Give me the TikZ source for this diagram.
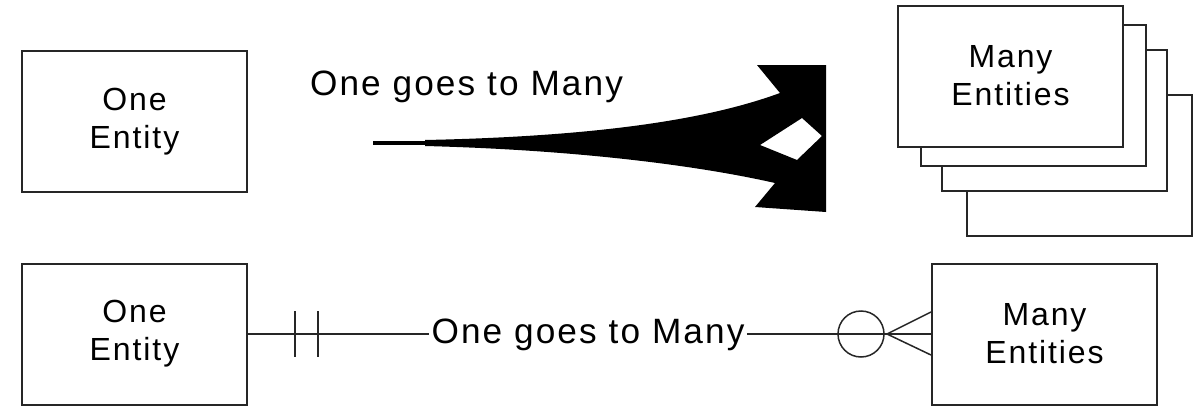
\documentclass[tikz,border=0pt]{standalone}
\usepackage{fontspec}
\setmainfont{Liberation Sans}[LetterSpace=6]
\usetikzlibrary{calc, positioning}

\begin{document}
\begin{tikzpicture}[x=0.5pt, y=-0.5pt,
  entity/.style={draw=black!85, line width=1pt, fill=white, minimum width=112.5pt,
    minimum height=70.5pt, align=center, inner sep=0pt, font=\fontsize{16}{19}\selectfont},
  rel/.style={draw=black!85, line width=0.75pt},
  lbl/.style={inner sep=1pt, font=\fontsize{17.6}{20}\selectfont}]
  \useasboundingbox (0,0) rectangle (1200,407);
  % old notation (top)
  \node[entity] (one1) at (134.5,121.5) {One\\Entity};
  \node[entity] (sheet4) at (1079,165.5) {};
  \node[entity] (sheet3) at (1054.5,120.5) {};
  \node[entity] (sheet2) at (1033,95.5) {};
  \node[entity] (many1) at (1010.5,76) {Many\\Entities};
  \node[lbl, anchor=base] (lbl1) at (466.5,95) {One goes to Many};
  % fat arrow splitting into two heads
  \coordinate (tail) at (373,143);
  \coordinate (head) at (826,138);
  \draw[line width=2pt] (tail) -- (430,143);
  \fill[even odd rule] (425,140) .. controls (620,136) and (720,115) .. (780,93)
      -- (757,65) -- (head |- 0,65) -- (head |- 0,212) -- (755,207) -- (775,183)
      .. controls (700,166) and (580,150) .. (425,146) -- cycle
      (760,145) -- (802,118) -- (822,136) -- (797,160) -- cycle;
  % crow's foot notation (bottom)
  \node[entity] (one2) at (134.5,334) {One\\Entity};
  \node[entity] (many2) at (1044.5,334) {Many\\Entities};
  \node[lbl, anchor=base] (lbl2) at (588,343) {One goes to Many};
  \draw[rel] (one2.east) -- (one2.east -| lbl2.west);
  \draw[rel] (lbl2.east |- many2.west) -- (many2.west);
  % one and only one
  \draw[rel] ($(one2.east)+(47,-23)$) -- ++(0,46);
  \draw[rel] ($(one2.east)+(70,-23)$) -- ++(0,46);
  % zero or many
  \draw[rel] ($(many2.west)+(-70,0)$) circle (11.5pt);
  \draw[rel] ($(many2.west)+(-44,0)$) -- ($(many2.west)+(0,-22)$);
  \draw[rel] ($(many2.west)+(-44,0)$) -- ($(many2.west)+(0,21)$);
\end{tikzpicture}
\end{document}
